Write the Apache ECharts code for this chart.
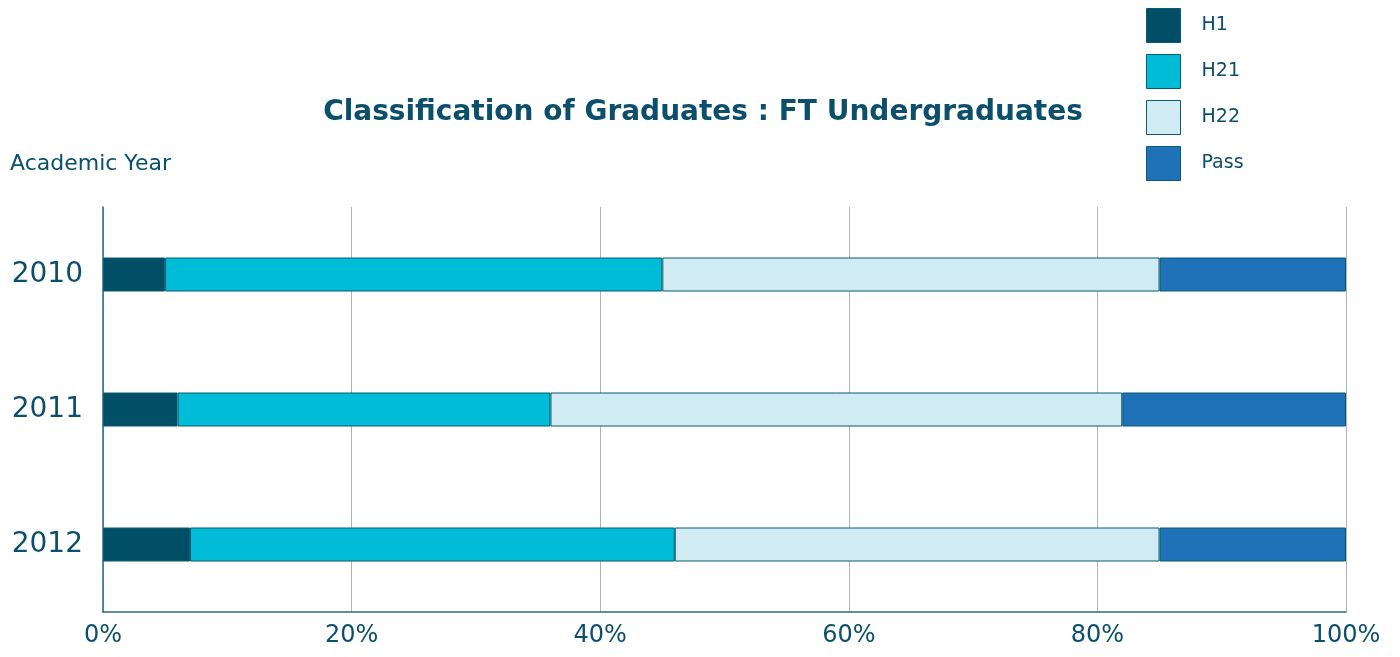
<!DOCTYPE html>
<html>
<head>
<meta charset="utf-8">
<script src="https://cdn.jsdelivr.net/npm/echarts@6/dist/echarts.min.js"></script>
<style>
html, body { margin: 0; padding: 0; background: #fff; }
#chart { width: 1400px; height: 657px; }
</style>
</head>
<body>
<div id="chart"></div>
<script>
var years = ['2010', '2011', '2012'];
var seriesNames = ['H1', 'H21', 'H22', 'Pass'];
var h1 = [5, 6, 7];
var h21 = [40, 30, 39];
var h22 = [40, 46, 39];
var pass = [15, 18, 15];
var colors = ['#014f66', '#00bcd6', '#d0ebf1', '#1f72b8'];

var textColor = '#0b4f6c';
var font = 'DejaVu Sans';

var chart = echarts.init(document.getElementById('chart'));
var dataList = [h1, h21, h22, pass];

var option = {
    animation: false,
    color: colors,
    title: [{
        text: 'Classification of Graduates : FT Undergraduates',
        left: 698,
        textAlign: 'center',
        top: 94,
        textStyle: { color: textColor, fontSize: 28, fontWeight: 'bold', fontFamily: font }
    }, {
        text: 'Academic Year',
        left: 10,
        top: 153,
        padding: 0,
        textStyle: { color: textColor, fontSize: 22, fontWeight: 'normal', fontFamily: font }
    }],
    legend: {
        orient: 'vertical',
        left: 1146,
        top: 8,
        padding: 0,
        itemWidth: 34,
        itemHeight: 34,
        itemGap: 11,
        icon: 'rect',
        data: seriesNames,
        textStyle: { color: textColor, fontSize: 19, fontFamily: font, padding: [2, 0, 0, 16] },
        itemStyle: { borderColor: '#0a5a72', borderWidth: 1 }
    },
    grid: { left: 103, right: 54, top: 207, bottom: 45, outerBoundsMode: 'none', containLabel: false },
    xAxis: {
        type: 'value',
        min: 0,
        max: 100,
        interval: 20,
        axisLine: { show: true, lineStyle: { color: '#2a6a80', width: 1.5 } },
        axisTick: { show: false },
        splitLine: { show: true, lineStyle: { color: '#b3b3b3', width: 1 } },
        axisLabel: {
            formatter: '{value}%',
            color: textColor,
            fontSize: 24,
            fontFamily: font,
            margin: 12
        }
    },
    yAxis: {
        type: 'category',
        data: years,
        inverse: true,
        axisLine: { show: true, lineStyle: { color: '#2a6a80', width: 1.5 } },
        axisTick: { show: false },
        axisLabel: { color: textColor, fontSize: 28, fontFamily: font, margin: 20, padding: [14, 0, 0, 0] }
    },
    series: seriesNames.map(function (name, i) {
        return {
            name: name,
            type: 'bar',
            stack: 'total',
            barWidth: 34,
            data: dataList[i],
            itemStyle: { color: colors[i], borderColor: '#0a5a72', borderWidth: 1 }
        };
    })
};
chart.setOption(option);
</script>
</body>
</html>
